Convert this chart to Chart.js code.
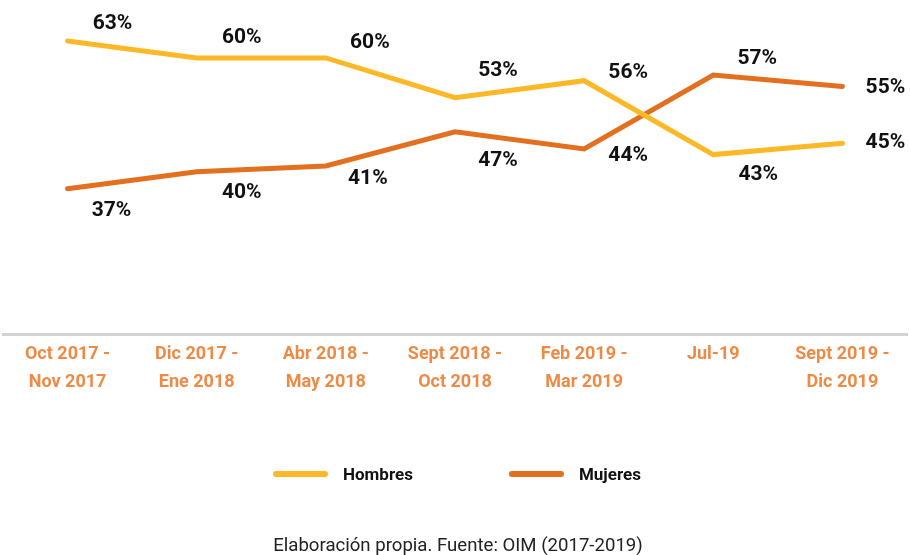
<!DOCTYPE html>
<html>
<head>
<meta charset="utf-8">
<script src="https://cdn.jsdelivr.net/npm/chart.js@4"></script>
<style>
  html, body { margin: 0; padding: 0; background: #fff; }
  #wrap { position: relative; width: 910px; height: 555px; font-family: Roboto, sans-serif; }
  #legend { position: absolute; left: 273px; top: 464px; display: flex; align-items: center; }
  .item { display: flex; align-items: center; margin-right: 96px; }
  .swatch { width: 55px; height: 6px; border-radius: 3px; margin-right: 15px; }
  .item span { font-weight: bold; font-size: 17px; color: #111; }
  #source { position: absolute; left: 3px; width: 910px; top: 534px; text-align: center; font-size: 18.6px; color: #222; }
</style>
</head>
<body>
<div id="wrap">
  <canvas id="chart" width="910" height="555"></canvas>
  <div id="legend"></div>
  <div id="source">Elaboración propia. Fuente: OIM (2017-2019)</div>
</div>
<script>
const periodos = [
    ['Oct 2017 -', 'Nov 2017'],
    ['Dic 2017 -', 'Ene 2018'],
    ['Abr 2018 -', 'May 2018'],
    ['Sept 2018 -', 'Oct 2018'],
    ['Feb 2019 -', 'Mar 2019'],
    'Jul-19',
    ['Sept 2019 -', 'Dic 2019']
];
const hombres = [63, 60, 60, 53, 56, 43, 45];
const mujeres = [37, 40, 41, 47, 44, 57, 55];

const fontName = 'Roboto, sans-serif';

// where each value label sits relative to its point (dx, dy)
const labelOffsets = [
    [[45, -17], [45, -20], [44, -15], [43, -27], [44, -8], [45, 20], [43, 0]],
    [[44, 22], [45, 21], [42, 13], [43, 29], [44, 7], [44, -16], [43, 1]]
];

const valueLabels = {
    id: 'valueLabels',
    afterDatasetsDraw(chart) {
        const ctx = chart.ctx;
        ctx.save();
        ctx.font = 'bold 21px ' + fontName;
        ctx.fillStyle = '#111';
        ctx.textAlign = 'center';
        ctx.textBaseline = 'middle';
        chart.data.datasets.forEach((ds, i) => {
            chart.getDatasetMeta(i).data.forEach((pt, j) => {
                const off = labelOffsets[i][j];
                ctx.fillText(ds.data[j] + '%', pt.x + off[0], pt.y + off[1]);
            });
        });
        ctx.restore();
    }
};

const chart = new Chart(document.getElementById('chart').getContext('2d'), {
    type: 'line',
    data: {
        labels: periodos,
        datasets: [{
            label: 'Hombres',
            data: hombres,
            borderColor: '#FDB827',
            backgroundColor: '#FDB827',
            borderWidth: 5,
            pointRadius: 0,
            borderCapStyle: 'round',
            tension: 0
        }, {
            label: 'Mujeres',
            data: mujeres,
            borderColor: '#E2701F',
            backgroundColor: '#E2701F',
            borderWidth: 5,
            pointRadius: 0,
            borderCapStyle: 'round',
            tension: 0
        }]
    },
    options: {
        responsive: false,
        animation: false,
        layout: { padding: { left: 3, right: 3, top: 0, bottom: 161 } },
        scales: {
            x: {
                offset: true,
                grid: { display: false },
                border: { color: '#d3d3d3', width: 3 },
                ticks: {
                    color: '#EE8A45',
                    font: { family: fontName, weight: 'bold', size: 18, lineHeight: 1.55 },
                    maxRotation: 0,
                    autoSkip: false,
                    padding: -2
                }
            },
            y: { display: false, min: 11.4, max: 70.2 }
        },
        plugins: {
            legend: { display: false },
            tooltip: { enabled: false }
        }
    },
    plugins: [valueLabels]
});

// html legend built from the datasets
document.getElementById('legend').innerHTML = chart.data.datasets.map(ds =>
    '<div class="item"><div class="swatch" style="background:' + ds.borderColor + '"></div><span>' + ds.label + '</span></div>'
).join('');
</script>
</body>
</html>
